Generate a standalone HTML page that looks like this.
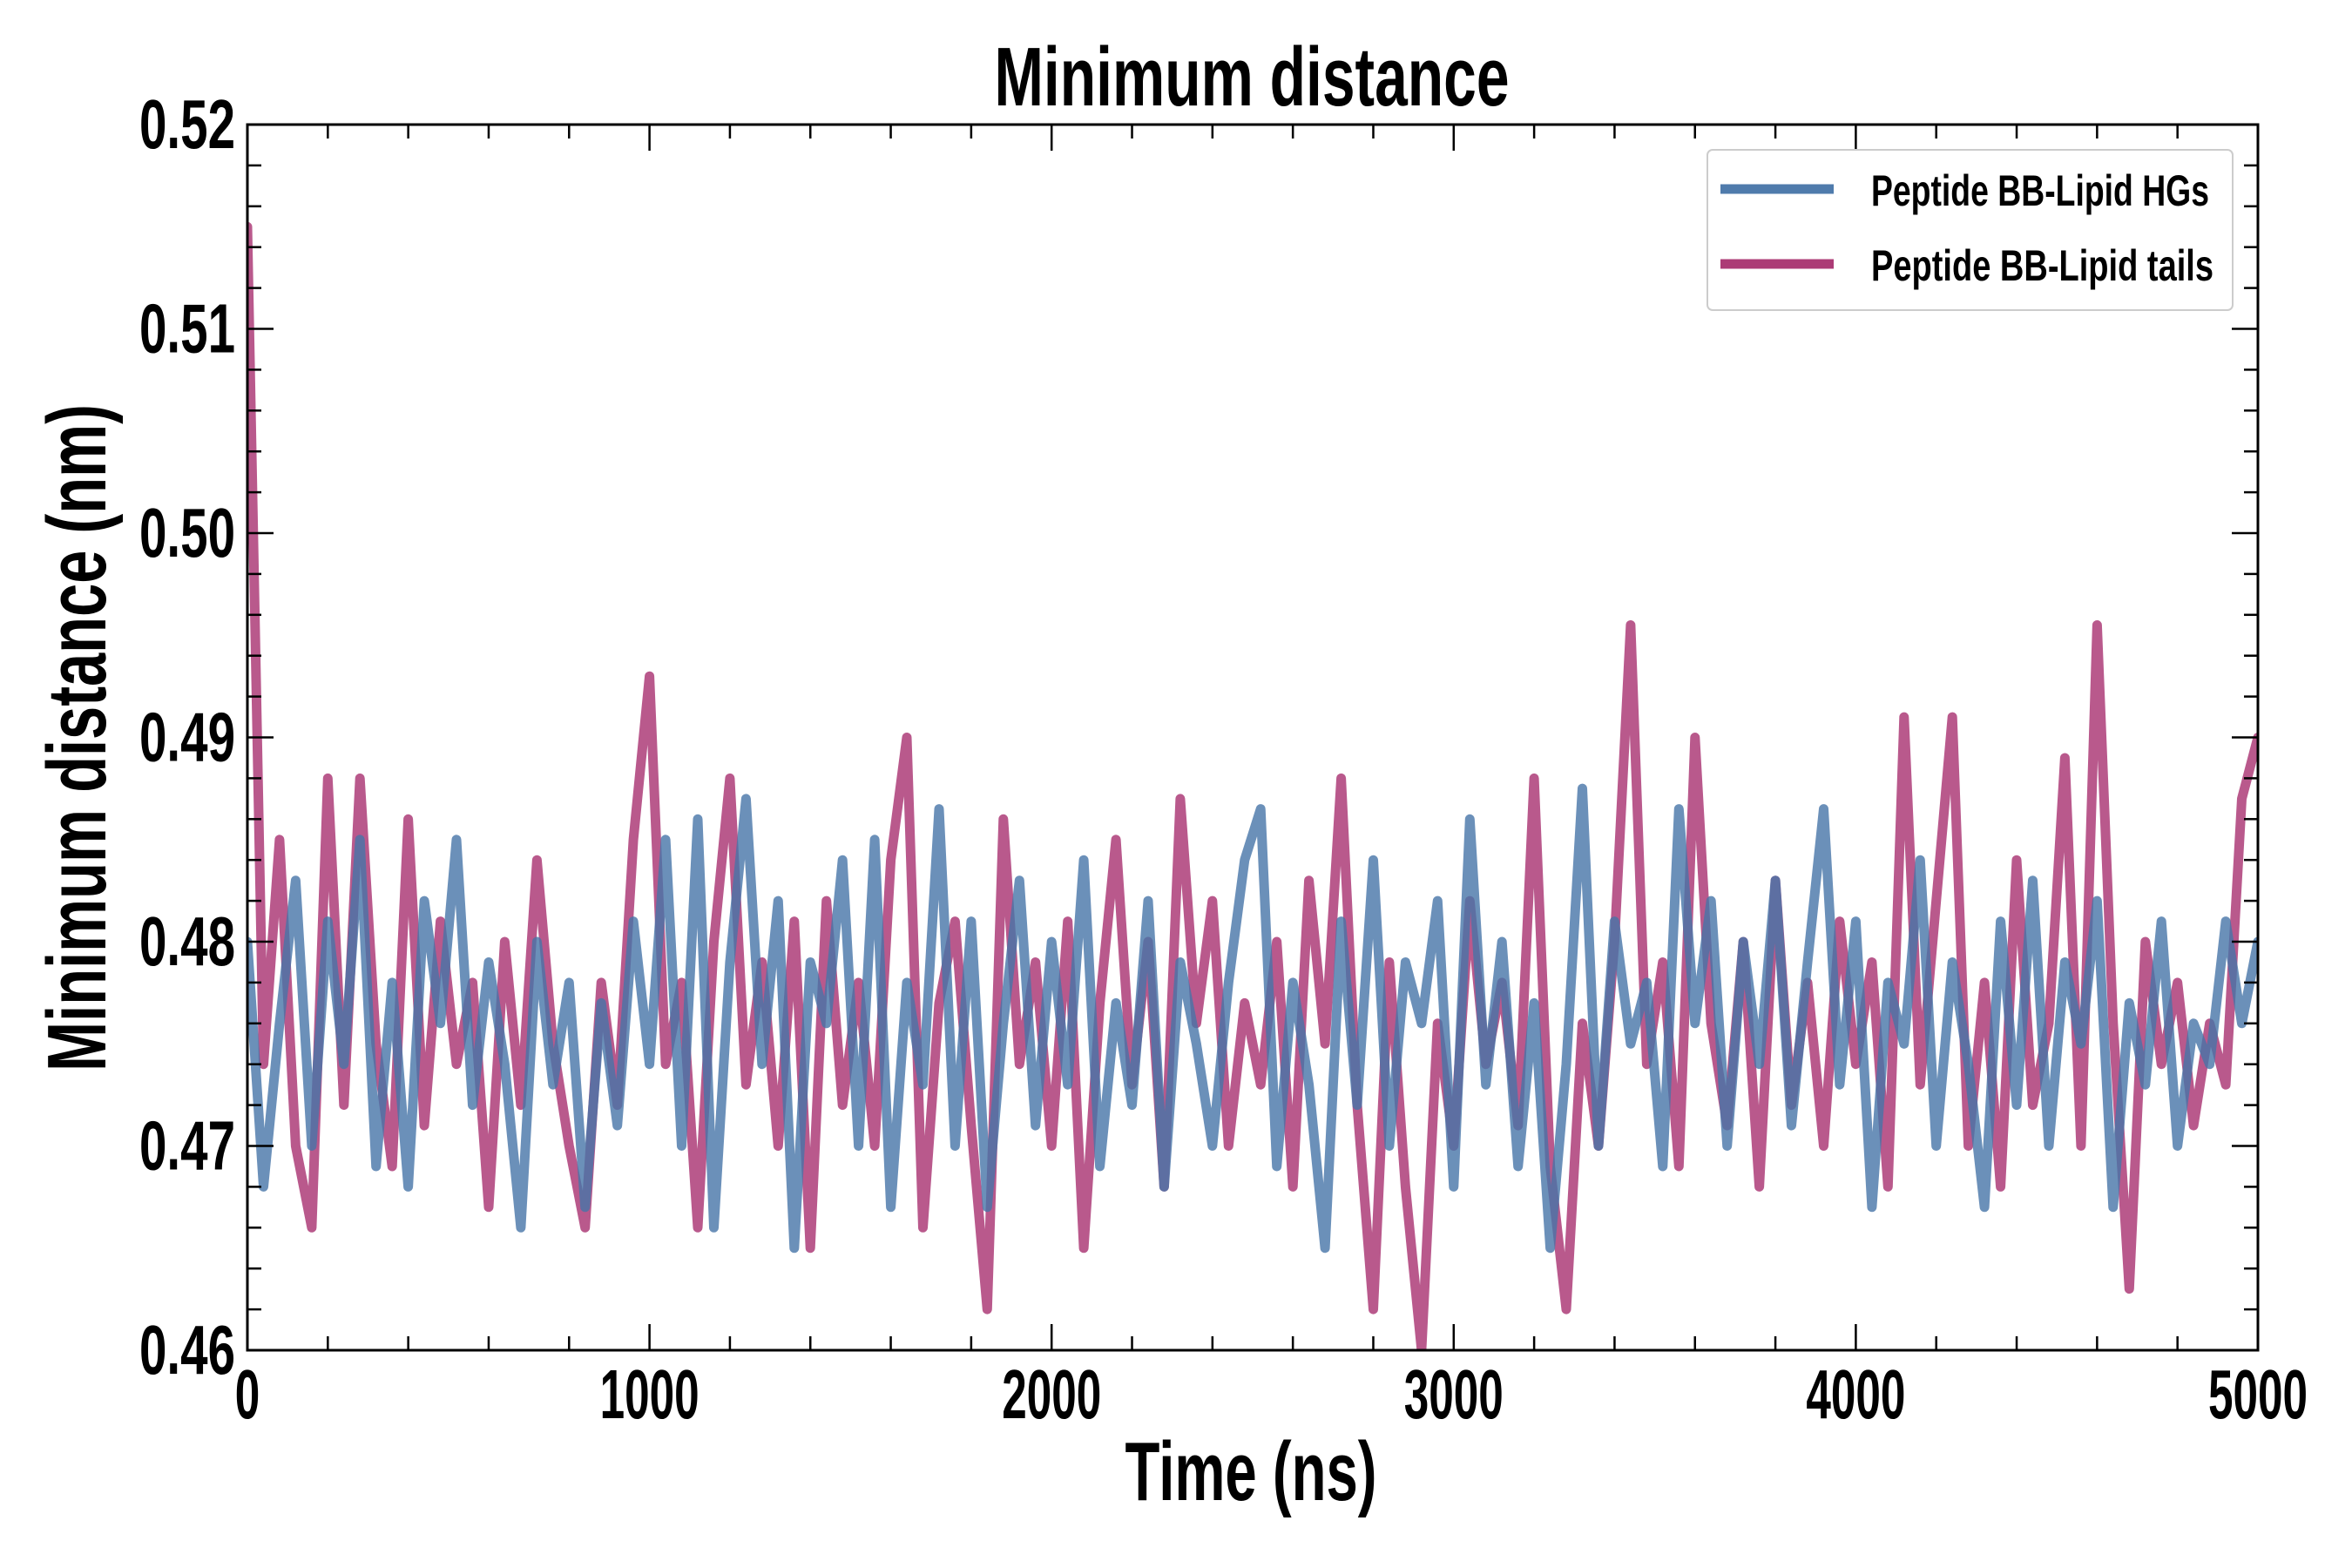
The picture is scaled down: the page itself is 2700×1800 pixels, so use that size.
<!DOCTYPE html>
<html><head><meta charset="utf-8"><style>html,body{margin:0;padding:0;background:#fff}svg{display:block}text{font-family:"Liberation Sans",sans-serif;font-weight:bold;fill:#000}</style></head>
<body>
<svg id="chart" width="2700" height="1800" viewBox="0 0 2700 1800">
<g id="plot"></g>
</svg>
<script>
const xTicks=[0,1000,2000,3000,4000,5000];
const xTickLabels=["0","1000","2000","3000","4000","5000"];
const yTicks=[0.46,0.47,0.48,0.49,0.50,0.51,0.52];
const yTickLabels=["0.46","0.47","0.48","0.49","0.50","0.51","0.52"];
const seriesNames=["Peptide BB-Lipid HGs","Peptide BB-Lipid tails"];
const hgValues=[0.480,0.468,0.476,0.483,0.470,0.481,0.474,0.485,0.469,0.478,0.468,0.482,0.476,0.485,0.472,0.479,0.474,0.466,0.480,0.473,0.478,0.467,0.477,0.471,0.481,0.474,0.485,0.470,0.486,0.466,0.479,0.487,0.474,0.482,0.465,0.479,0.476,0.484,0.470,0.485,0.467,0.478,0.473,0.4865,0.470,0.481,0.467,0.476,0.483,0.471,0.480,0.473,0.484,0.469,0.477,0.472,0.482,0.468,0.479,0.475,0.470,0.478,0.484,0.4865,0.469,0.478,0.473,0.465,0.481,0.472,0.484,0.470,0.479,0.476,0.482,0.468,0.486,0.473,0.480,0.469,0.477,0.465,0.474,0.4875,0.470,0.481,0.475,0.478,0.469,0.4865,0.476,0.482,0.470,0.480,0.474,0.483,0.471,0.479,0.4865,0.473,0.481,0.467,0.478,0.475,0.484,0.470,0.479,0.474,0.467,0.481,0.472,0.483,0.470,0.479,0.475,0.482,0.467,0.477,0.473,0.481,0.470,0.476,0.474,0.481,0.476,0.480];
const tailValues=[0.515,0.474,0.485,0.470,0.466,0.488,0.472,0.488,0.475,0.469,0.486,0.471,0.481,0.474,0.478,0.467,0.480,0.472,0.484,0.475,0.470,0.466,0.478,0.472,0.485,0.493,0.474,0.478,0.466,0.480,0.488,0.473,0.479,0.470,0.481,0.465,0.482,0.472,0.478,0.470,0.484,0.490,0.466,0.477,0.481,0.471,0.462,0.486,0.474,0.479,0.470,0.481,0.465,0.477,0.485,0.473,0.480,0.468,0.487,0.476,0.482,0.470,0.477,0.473,0.480,0.468,0.483,0.475,0.488,0.472,0.462,0.479,0.468,0.460,0.476,0.470,0.482,0.474,0.478,0.471,0.488,0.469,0.462,0.476,0.470,0.480,0.4955,0.474,0.479,0.469,0.490,0.476,0.471,0.480,0.468,0.483,0.472,0.478,0.470,0.481,0.474,0.479,0.468,0.491,0.473,0.482,0.491,0.470,0.478,0.468,0.484,0.472,0.476,0.489,0.470,0.4955,0.476,0.463,0.480,0.474,0.478,0.471,0.476,0.473,0.487,0.490];

const NS="http://www.w3.org/2000/svg";
const L=284,R=2592,T=143,B=1550;
const X0=0,X1=5000,Y0=0.46,Y1=0.52;
const sx=v=>L+(v-X0)/(X1-X0)*(R-L);
const sy=v=>B-(v-Y0)/(Y1-Y0)*(B-T);
const svg=document.getElementById('chart');
const plot=document.getElementById('plot');
function mk(tag,attrs,parent){const e=document.createElementNS(NS,tag);for(const k in attrs)e.setAttribute(k,attrs[k]);(parent||svg).appendChild(e);return e;}

const defs=mk('defs',{});
const cp=mk('clipPath',{id:'clip'},defs);
mk('rect',{x:L,y:T,width:R-L,height:B-T},cp);

function drawSeries(vals,color,op,name){
  const n=vals.length;
  let d='';
  vals.forEach((v,i)=>{const t=X0+i*(X1-X0)/(n-1);d+=(i?'L':'M')+sx(t).toFixed(1)+','+sy(v).toFixed(1);});
  const p=mk('path',{d:d,fill:'none',stroke:color,'stroke-opacity':op,'stroke-width':11,'stroke-linejoin':'round','stroke-linecap':'round','clip-path':'url(#clip)'},plot);
  
  
}
drawSeries(tailValues,'#a8306f',0.8,'tails-line');
drawSeries(hgValues,'#4674a8',0.8,'hgs-line');

const fr=mk('rect',{x:L,y:T,width:R-L,height:B-T,fill:'none',stroke:'#000','stroke-width':3});



for(let v=0;v<=5000;v+=200){
  const major=v%1000===0, len=major?30:16, x=sx(v);
  mk('line',{x1:x,y1:B,x2:x,y2:B-len,stroke:'#000','stroke-width':2.5});
  mk('line',{x1:x,y1:T,x2:x,y2:T+len,stroke:'#000','stroke-width':2.5});
}
for(let k=0;k<=30;k++){
  const v=Y0+k*0.002, major=k%5===0, len=major?30:16, y=sy(v);
  mk('line',{x1:L,y1:y,x2:L+len,y2:y,stroke:'#000','stroke-width':2.5});
  mk('line',{x1:R,y1:y,x2:R-len,y2:y,stroke:'#000','stroke-width':2.5});
}
function txt(s,attrs,name){const t=mk('text',Object.assign({'lengthAdjust':'spacingAndGlyphs'},attrs));t.textContent=s;
  
  
  return t;}
xTicks.forEach((v,i)=>{
  const s=xTickLabels[i];
  txt(s,{x:sx(v),y:1628,'text-anchor':'middle','font-size':80,textLength:s.length*28.5},'x-tick-label');
});
yTicks.forEach((v,i)=>{
  txt(yTickLabels[i],{x:270,y:sy(v)+27,'text-anchor':'end','font-size':80,textLength:110},'y-tick-label');
});
txt('Minimum distance',{x:1437,y:121,'text-anchor':'middle','font-size':96,textLength:591},'chart-title');
txt('Time (ns)',{x:1436,y:1722,'text-anchor':'middle','font-size':96,textLength:289},'x-axis-title');
txt('Minimum distance (nm)',{x:0,y:0,'text-anchor':'middle','font-size':96,textLength:766,transform:'translate(121,847) rotate(-90)'},'y-axis-title');

const lg=mk('rect',{x:1960,y:172,width:603,height:184,rx:6,fill:'#fff','fill-opacity':0.8,stroke:'#ccc','stroke-width':2});


const legColors=['#4674a8','#a8306f'];
const legY=[217,303];
seriesNames.forEach((s,i)=>{
  const ln=mk('line',{x1:1975,y1:legY[i],x2:2105,y2:legY[i],stroke:legColors[i],'stroke-width':11,'stroke-opacity':0.95});
  
  
  txt(s,{x:2148,y:legY[i]+19,'font-size':50,textLength:i?393:388},'legend-entry');
});
</script>
</body></html>
